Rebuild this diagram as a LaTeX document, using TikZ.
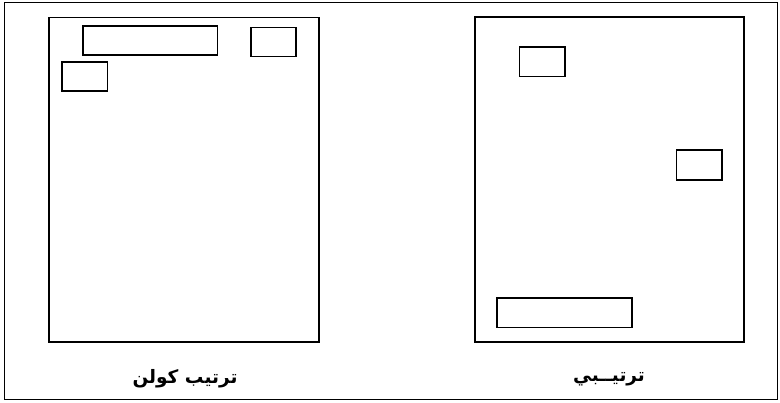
\documentclass[tikz,border=0pt]{standalone}
\usepackage{fontspec}
\newfontfamily\arabicfont[Script=Arabic,BoldFont={DejaVu Sans Bold}]{DejaVu Sans}
\TeXXeTstate=1
\usepackage{tikz}
\usetikzlibrary{calc}

\begin{document}
\begin{tikzpicture}[x=1pt,y=-1pt,line join=miter,
  box/.style={line width=1.4pt},
  caption/.style={font=\arabicfont\bfseries\fontsize{18.5}{22}\selectfont,inner sep=0pt}]
  \useasboundingbox (0,0) rectangle (780,403);
  % frame
  \draw[line width=1pt] (4,2.5) rectangle (777,399.5);
  % left sheet
  \draw[box] (49,17.5) rectangle (319,342);
  \draw[box] (83,26) rectangle (217.5,55);
  \draw[box] (251,27.5) rectangle (296,56.5);
  \draw[box] (62,62) rectangle (107.5,91);
  % right sheet
  \draw[box] (475,17) rectangle (744,342);
  \draw[box] (519.5,47) rectangle (565,76.5);
  \draw[box] (676.5,150) rectangle (722,180);
  \draw[box] (497,298) rectangle (632,327.5);
  % captions
  \node[caption] (capleft) at (185,379) {\beginR ترتيب كولن\endR};
  \node[caption] (capright) at (609,379) {\beginR ترتيــبي\endR};
\end{tikzpicture}
\end{document}
